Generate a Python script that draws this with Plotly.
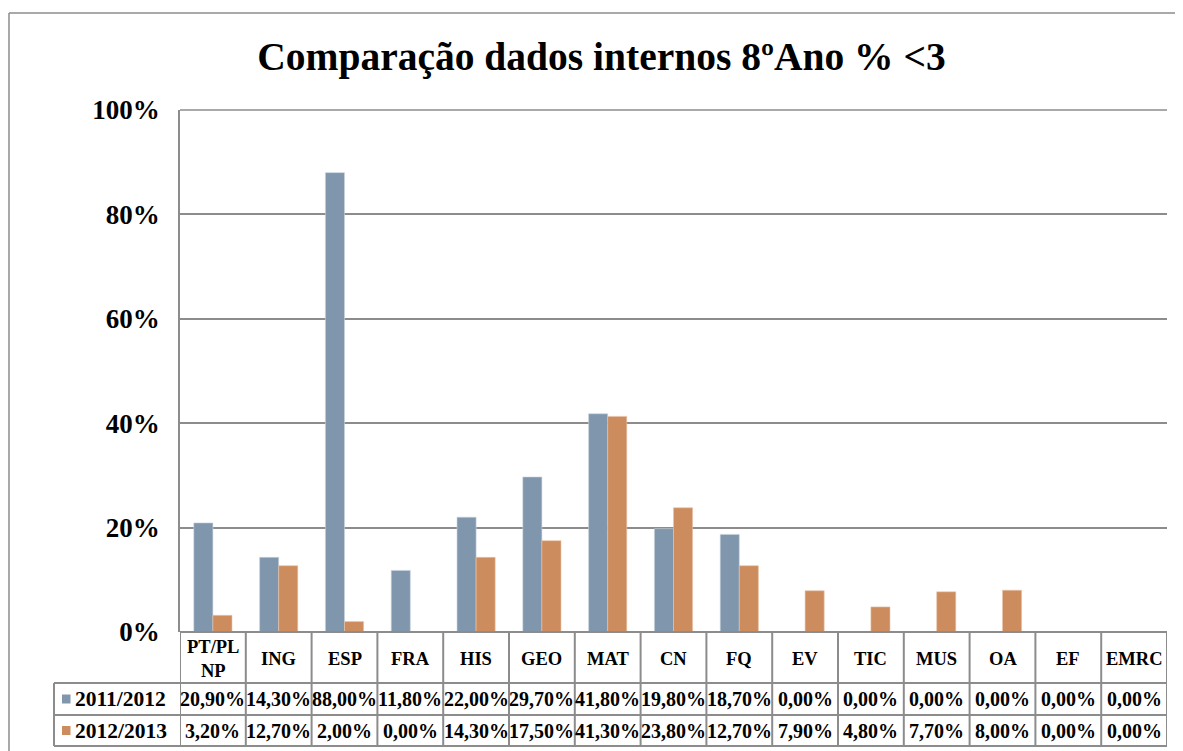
import plotly.graph_objects as go

categories = ["PT/PL<br>NP", "ING", "ESP", "FRA", "HIS", "GEO", "MAT", "CN", "FQ",
              "EV", "TIC", "MUS", "OA", "EF", "EMRC"]
series_names = ["2011/2012", "2012/2013"]
values_2011 = [20.9, 14.3, 88.0, 11.8, 22.0, 29.7, 41.8, 19.8, 18.7, 0.0, 0.0, 0.0, 0.0, 0.0, 0.0]
values_2012 = [3.2, 12.7, 2.0, 0.0, 14.3, 17.5, 41.3, 23.8, 12.7, 7.9, 4.8, 7.7, 8.0, 0.0, 0.0]
colors = ["#7f96ad", "#cd8c5e"]
yticks = [0, 20, 40, 60, 80, 100]

# page body has an 8px margin; work in reference-page pixels and shift
OFF = 8
W, H = 1183 - OFF, 751 - OFF
L, R, T, B = 180, 1167, 110, 632          # plot area in page pixels
FONT = "Liberation Serif"
GRID = "#8c8c8c"

def py(px):  # page pixel y -> paper y
    return (B - px) / (B - T)

def pxx(px):  # page pixel x -> paper x
    return (px - L) / (R - L)

idx = list(range(len(categories)))
fig = go.Figure()
edge = ["#c9d3dd", "#e8c3a8"]
for name, vals, c, e in zip(series_names, [values_2011, values_2012], colors, edge):
    fig.add_trace(go.Bar(x=idx, y=vals, name=name,
                         marker=dict(color=c, line=dict(color=e, width=0.6))))

fig.update_layout(
    width=W, height=H,
    margin=dict(l=L - OFF, r=W - (R - OFF), t=T - OFF, b=H - (B - OFF)),
    plot_bgcolor="white", paper_bgcolor="white",
    barmode="group", bargap=0.42, bargroupgap=0,
    showlegend=False,
    title=dict(text="Comparação dados internos 8ºAno % <3", xref="container", x=(601.5 - OFF) / W,
               xanchor="center", yref="container", y=1 - (56 - OFF) / H, yanchor="middle",
               font=dict(family=FONT, size=39.5, color="black", weight="bold")),
    xaxis=dict(range=[-0.5, len(categories) - 0.5], showticklabels=False, showgrid=False,
               zeroline=False, showline=False, fixedrange=True),
    yaxis=dict(range=[0, 100], tickvals=yticks, ticktext=[f"{v}%" for v in yticks],
               showgrid=True, gridcolor=GRID, gridwidth=1.5, zeroline=False,
               showline=True, linecolor=GRID, linewidth=1.5, ticklabelstandoff=13,
               tickfont=dict(family=FONT, size=27, color="black", weight="bold")),
)

shapes = []
# outer chart border
shapes.append(dict(type="line", xref="paper", yref="paper", x0=pxx(9), x1=pxx(1200), y0=py(13), y1=py(13),
                   line=dict(color=GRID, width=1.5)))
shapes.append(dict(type="line", xref="paper", yref="paper", x0=pxx(9), x1=pxx(9), y0=py(13), y1=py(770),
                   line=dict(color=GRID, width=1.5)))
# top line of plot area
shapes.append(dict(type="line", xref="paper", yref="paper", x0=0, x1=1, y0=1, y1=1, line=dict(color=GRID, width=1.5)))

row_y = [632, 683, 715, 746]
leg_left = 54
shapes.append(dict(type="line", xref="paper", yref="paper", x0=0, x1=1, y0=py(row_y[0]), y1=py(row_y[0]),
                   line=dict(color=GRID, width=2)))
for ry in row_y[1:]:
    shapes.append(dict(type="line", xref="paper", yref="paper", x0=pxx(leg_left), x1=1, y0=py(ry), y1=py(ry),
                       line=dict(color=GRID, width=2)))
for i in range(len(categories) + 1):
    shapes.append(dict(type="line", xref="x", yref="paper", x0=i - 0.5, x1=i - 0.5, y0=py(row_y[0]), y1=py(row_y[3]),
                       line=dict(color=GRID, width=2)))
shapes.append(dict(type="line", xref="paper", yref="paper", x0=pxx(leg_left), x1=pxx(leg_left), y0=py(row_y[1]),
                   y1=py(row_y[3]), line=dict(color=GRID, width=2)))

annotations = []
for i, cat in enumerate(categories):
    annotations.append(dict(xref="x", yref="paper", x=i, y=py((row_y[0] + row_y[1]) / 2 + 1), text=cat,
                            showarrow=False, xanchor="center", yanchor="middle",
                            font=dict(family=FONT, size=18.5, color="black", weight="bold")))
for r, (name, vals, c) in enumerate(zip(series_names, [values_2011, values_2012], colors)):
    ymid = (row_y[r + 1] + row_y[r + 2]) / 2
    for i, v in enumerate(vals):
        annotations.append(dict(xref="x", yref="paper", x=i, y=py(ymid), text=f"{v:.2f}".replace(".", ",") + "%",
                                showarrow=False, xanchor="center", yanchor="middle",
                                font=dict(family=FONT, size=20, color="black", weight="bold")))
    shapes.append(dict(type="rect", xref="paper", yref="paper", x0=pxx(62), x1=pxx(70.5), y0=py(ymid - 4.5),
                       y1=py(ymid + 4.5), fillcolor=c, line=dict(width=0)))
    annotations.append(dict(xref="paper", yref="paper", x=pxx(73), y=py(ymid), text=name, showarrow=False,
                            xanchor="left", yanchor="middle",
                            font=dict(family=FONT, size=21.5, color="black", weight="bold")))

fig.update_layout(shapes=shapes, annotations=annotations)
fig.write_html("out.html")
